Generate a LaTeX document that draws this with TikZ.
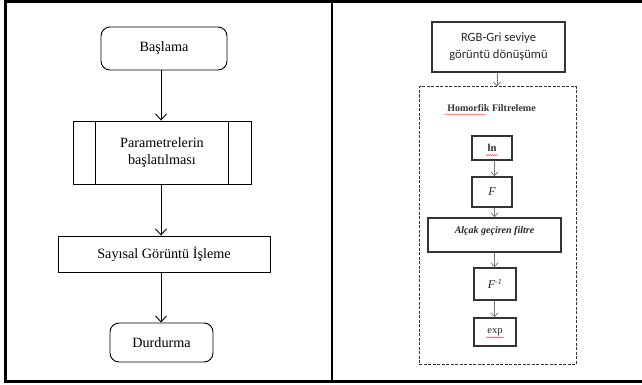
\documentclass[tikz,border=0pt]{standalone}
\usepackage{fontspec}
\setmainfont{Liberation Serif}
\newfontfamily\carlito{Carlito}
\usetikzlibrary{arrows.meta,decorations.pathmorphing}
\begin{document}
\begin{tikzpicture}[x=1pt,y=-1pt,
        term/.style={draw,line width=0.9pt,rounded corners=9pt,font=\fontsize{14.2}{17}\selectfont},
        proc/.style={draw,line width=0.9pt,font=\fontsize{14.2}{17}\selectfont,align=center},
        flow/.style={line width=0.9pt,-{Straight Barb[length=6pt,width=11pt]}},
        sub/.style={draw=black!80,line width=1.4pt,inner sep=0pt,text=black!85},
        link/.style={draw=black!55,line width=0.7pt,-{Straight Barb[length=4pt,width=7pt]}},
        squig/.style={draw=red!70,line width=0.4pt,decorate,
            decoration={snake,amplitude=0.5pt,segment length=2pt}}]
    \useasboundingbox (0,0) rectangle (642,385);
    % frame
    \draw[line width=2.8pt] (645,1.5) -- (5.3,1.5) -- (5.3,381.5) -- (645,381.5);
    \draw[line width=2.8pt] (332,1.5) -- (332,381.5);
    % left panel
    \node[term,minimum width=126pt,minimum height=43pt] (start) at (164,48.5) {Başlama};
    \node[proc,minimum width=178pt,minimum height=63pt] (init) at (162,152.5) {Parametrelerin\\başlatılması};
    \draw[line width=0.9pt] (init.north west) ++(23,0) -- ++(0,63);
    \draw[line width=0.9pt] (init.north east) ++(-23,0) -- ++(0,63);
    \node[proc,minimum width=212pt,minimum height=36pt] (image) at (164,254) {Sayısal Görüntü İşleme};
    \node[term,minimum width=103pt,minimum height=39pt] (stop) at (161.5,342.5) {Durdurma};
    \coordinate (ax) at (161,0);
    \foreach \from/\to in {start/init, init/image, image/stop}
        \draw[flow] (\from.south -| ax) -- (\to.north -| ax);
    % right panel
    \node[sub,minimum width=133pt,minimum height=50pt,align=center,
        font=\carlito\fontsize{12.6}{17}\selectfont] (rgb) at (498.5,47) {RGB-Gri seviye\\görüntü dönüşümü};
    \node[draw=black!80,line width=1pt,dash pattern=on 3pt off 1.5pt,
        minimum width=157pt,minimum height=277pt] (homo) at (497.5,225.5) {};
    \node[font=\bfseries\fontsize{10}{12}\selectfont,text=black!80] (title) at (491.5,108) {Homorfik Filtreleme};
    \node[sub,minimum width=40pt,minimum height=24pt,font=\bfseries\fontsize{10.5}{12}\selectfont] (ln) at (492,148) {ln};
    \node[sub,minimum width=40pt,minimum height=30pt,font=\itshape\fontsize{12}{12}\selectfont] (fft) at (492,192) {F};
    \node[sub,minimum width=133pt,minimum height=34pt,text depth=11pt,
        font=\bfseries\itshape\fontsize{10}{12}\selectfont] (lpf) at (494.5,235) {Alçak geçiren filtre};
    \node[sub,minimum width=42pt,minimum height=32pt,font=\itshape\fontsize{12}{12}\selectfont] (ifft) at (495,284) {F\textsuperscript{-1}};
    \node[sub,minimum width=42pt,minimum height=28pt,font=\fontsize{10.5}{12}\selectfont] (exp) at (495,332) {exp};
    \coordinate (bx) at (497,0);
    \coordinate (cx) at (494.5,0);
    \draw[link] (rgb.south -| bx) -- (homo.north -| bx);
    \foreach \from/\to in {ln/fft, fft/lpf, lpf/ifft, ifft/exp}
        \draw[link] (\from.south -| cx) -- (\to.north -| cx);
    % spelling marks
    \draw[squig] (title.base west) ++(1,3) -- ++(41,0);
    \draw[squig] (ln.base) ++(-6,3.5) -- ++(12,0);
    \draw[squig] (exp.base) ++(-9,4) -- ++(18,0);
\end{tikzpicture}
\end{document}
